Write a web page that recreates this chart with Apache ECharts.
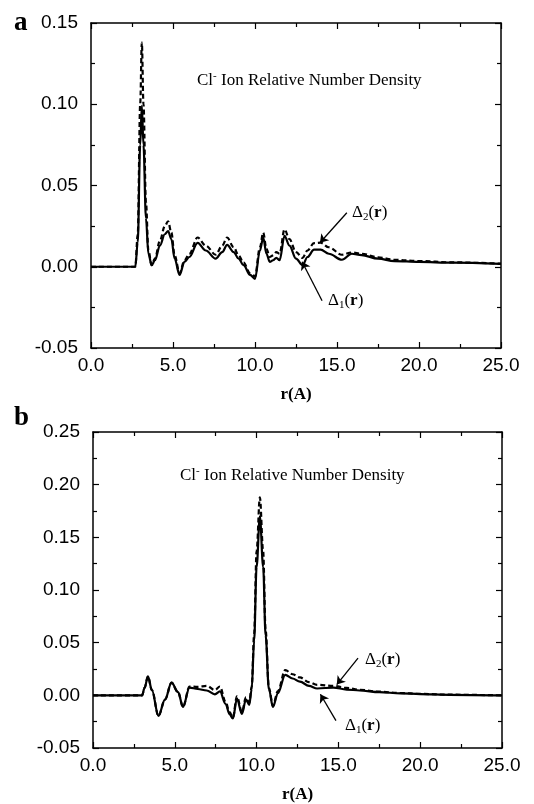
<!DOCTYPE html>
<html>
<head>
<meta charset="utf-8">
<script src="https://cdn.jsdelivr.net/npm/echarts@6/dist/echarts.min.js"></script>
<style>
  html, body { margin: 0; padding: 0; background: #fff; }
  #chart { width: 534px; height: 804px; }
</style>
</head>
<body>
<div id="chart"></div>
<script>
// panel a: Cl- relative number density, r in Angstrom
const rA = [0, 2.7, 2.85, 3.0, 3.1, 3.2, 3.35, 3.5, 3.7, 3.9, 4.2, 4.5, 4.7, 4.9, 5.1, 5.4, 5.7, 6.0, 6.5, 7.0, 7.6, 8.0, 8.3, 8.7, 9.0, 9.3, 9.7, 10.0, 10.3, 10.5, 10.7, 10.9, 11.1, 11.3, 11.5, 11.8, 12.1, 12.5, 12.9, 13.2, 13.6, 14.0, 14.5, 15.3, 15.9, 16.5, 17.5, 18.5, 20, 22, 25];
const deltaA1 = [0, 0, 0.015, 0.075, 0.099, 0.075, 0.03, 0.008, 0.001, 0.004, 0.013, 0.020, 0.022, 0.017, 0.005, -0.005, 0.003, 0.006, 0.0147, 0.010, 0.005, 0.009, 0.0135, 0.009, 0.005, 0.001, -0.005, -0.0075, 0.010, 0.018, 0.008, 0.003, 0.004, 0.0055, 0.004, 0.019, 0.013, 0.005, 0.001, 0.006, 0.0105, 0.0105, 0.008, 0.0043, 0.008, 0.0072, 0.005, 0.0035, 0.003, 0.0025, 0.0018];
const deltaA2 = [0, 0, 0.02, 0.10, 0.138, 0.10, 0.04, 0.01, 0.001, 0.005, 0.016, 0.025, 0.028, 0.021, 0.007, -0.004, 0.004, 0.008, 0.018, 0.013, 0.0074, 0.013, 0.018, 0.012, 0.007, 0.0025, -0.004, -0.006, 0.012, 0.021, 0.011, 0.006, 0.007, 0.009, 0.008, 0.023, 0.017, 0.009, 0.0055, 0.010, 0.0145, 0.0148, 0.012, 0.0074, 0.0088, 0.008, 0.0058, 0.0043, 0.0035, 0.0027, 0.0019];

// panel b
const rB = [0, 3.0, 3.15, 3.36, 3.6, 4.0, 4.4, 4.8, 5.2, 5.5, 5.9, 6.4, 6.95, 7.45, 7.76, 8.1, 8.35, 8.55, 8.8, 9.1, 9.35, 9.55, 9.7, 9.85, 10.0, 10.2, 10.4, 10.55, 10.75, 11.0, 11.3, 11.75, 12.2, 12.65, 13.2, 13.7, 14.7, 15.5, 16.3, 17.5, 18.8, 20, 21.8, 25];
const deltaB1 = [0, 0, 0.007, 0.018, 0.005, -0.0195, -0.004, 0.012, 0.003, -0.011, 0.0074, 0.006, 0.0046, 0.001, 0.0037, -0.008, -0.018, -0.022, -0.003, -0.0176, -0.004, -0.009, 0.006, 0.052, 0.122, 0.17, 0.122, 0.057, 0.006, -0.011, 0.002, 0.0195, 0.016, 0.013, 0.009, 0.0065, 0.0074, 0.0055, 0.0046, 0.003, 0.0019, 0.0012, 0.0005, 0];
const deltaB2 = [0, 0, 0.007, 0.018, 0.005, -0.0195, -0.004, 0.012, 0.003, -0.011, 0.0084, 0.008, 0.009, 0.005, 0.0084, -0.006, -0.016, -0.021, -0.001, -0.016, -0.002, -0.007, 0.008, 0.058, 0.137, 0.188, 0.137, 0.062, 0.007, -0.010, 0.004, 0.024, 0.020, 0.017, 0.0125, 0.010, 0.009, 0.007, 0.0052, 0.0035, 0.0022, 0.0014, 0.0006, 0];

// arrows [from, to] in data coords
const arrowsA = [[[15.6, 0.0332], [13.96, 0.0148]], [[14.09, -0.0209], [12.87, 0.0031]]];
const arrowsB = [[[16.2, 0.0353], [14.9, 0.0102]], [[14.85, -0.024], [13.9, 0.001]]];

const pairs = (xs, ys) => xs.map((x, i) => [x, ys[i]]);

const sans = 'Liberation Sans, Arial, sans-serif';
const serif = 'Liberation Serif, Times New Roman, serif';

function xAxes(grid, withName) {
    const base = {
        gridIndex: grid, type: 'value', min: 0, max: 25, interval: 5,
        axisLine: { onZero: false, lineStyle: { color: '#000', width: 1.5 } },
        axisTick: { inside: true, length: 6, lineStyle: { color: '#000', width: 1.2 } },
        minorTick: { show: true, splitNumber: 2, length: 4, lineStyle: { color: '#000', width: 1.2 } },
        splitLine: { show: false }
    };
    return [
        Object.assign({}, base, {
            position: 'bottom',
            axisLabel: { color: '#000', fontSize: 19, fontFamily: sans, margin: 8,
                formatter: v => v.toFixed(1) },
            name: withName ? 'r(A)' : '', nameLocation: 'middle', nameGap: 38,
            nameTextStyle: { color: '#000', fontSize: 17, fontWeight: 'bold', fontFamily: serif }
        }),
        Object.assign({}, base, { position: 'top', axisLabel: { show: false } })
    ];
}

function yAxes(grid, max) {
    const base = {
        gridIndex: grid, type: 'value', min: -0.05, max: max, interval: 0.05,
        axisLine: { onZero: false, lineStyle: { color: '#000', width: 1.5 } },
        axisTick: { inside: true, length: 6, lineStyle: { color: '#000', width: 1.2 } },
        minorTick: { show: true, splitNumber: 2, length: 4, lineStyle: { color: '#000', width: 1.2 } },
        splitLine: { show: false }
    };
    return [
        Object.assign({}, base, {
            position: 'left',
            axisLabel: { color: '#000', fontSize: 19, fontFamily: sans, margin: 13,
                formatter: v => v.toFixed(2) }
        }),
        Object.assign({}, base, { position: 'right', axisLabel: { show: false } })
    ];
}

function curve(name, xi, yi, xs, ys, dashed, arrow) {
    const s = {
        type: 'line', name: name, xAxisIndex: xi, yAxisIndex: yi,
        data: pairs(xs, ys), showSymbol: false, smooth: 0.35, smoothMonotone: 'x',
        lineStyle: { color: '#000', width: 2.2, type: dashed ? [5, 3] : 'solid' },
        z: dashed ? 3 : 2
    };
    if (arrow) {
        s.markLine = {
            silent: true, animation: false,
            lineStyle: { color: '#000', width: 1.3, type: 'solid' },
            label: { show: false },
            data: [[{ coord: arrow[0], symbol: 'none' }, { coord: arrow[1], symbol: 'arrow', symbolSize: 8 }]]
        };
    }
    return s;
}

const richDelta = {
    d: { fontFamily: serif, fontSize: 17, color: '#000' },
    s: { fontFamily: serif, fontSize: 11, color: '#000', padding: [9, 0, 0, 0] },
    b: { fontFamily: serif, fontSize: 17, color: '#000', fontWeight: 'bold' }
};
const richTitle = {
    t: { fontFamily: serif, fontSize: 17, color: '#000' },
    sup: { fontFamily: serif, fontSize: 11, color: '#000', padding: [0, 0, 9, 0] }
};

function label(x, y, n) {
    return { type: 'text', left: x, top: y, style: {
        text: '{d|Δ}{s|' + n + '}{d|(}{b|r}{d|)}', rich: richDelta } };
}
function title(x, y) {
    return { type: 'text', left: x, top: y, style: {
        text: '{t|Cl}{sup|-}{t| Ion Relative Number Density}', rich: richTitle } };
}

const chart = echarts.init(document.getElementById('chart'), null, { renderer: 'canvas' });
chart.setOption({
    backgroundColor: '#fff',
    animation: false,
    grid: [
        { left: 91, top: 23, width: 410, height: 325 },
        { left: 93, top: 432, width: 409, height: 323 }
    ],
    xAxis: xAxes(0, true).concat(xAxes(1, true)),
    yAxis: yAxes(0, 0.15).concat(yAxes(1, 0.25)),
    series: [
        curve('Δ1a', 0, 0, rA, deltaA1, false, arrowsA[1]),
        curve('Δ2a', 0, 0, rA, deltaA2, true, arrowsA[0]),
        curve('Δ1b', 2, 2, rB, deltaB1, false, arrowsB[1]),
        curve('Δ2b', 2, 2, rB, deltaB2, true, arrowsB[0])
    ],
    graphic: [
        { type: 'text', left: 14, top: 10, style: { text: 'a', fontFamily: serif, fontSize: 27, fontWeight: 'bold', fill: '#000' } },
        { type: 'text', left: 14, top: 405, style: { text: 'b', fontFamily: serif, fontSize: 27, fontWeight: 'bold', fill: '#000' } },
        title(197, 71),
        title(180, 466),
        label(352, 204, 2),
        label(328, 292, 1),
        label(365, 651, 2),
        label(345, 717, 1)
    ]
});
</script>
</body>
</html>
